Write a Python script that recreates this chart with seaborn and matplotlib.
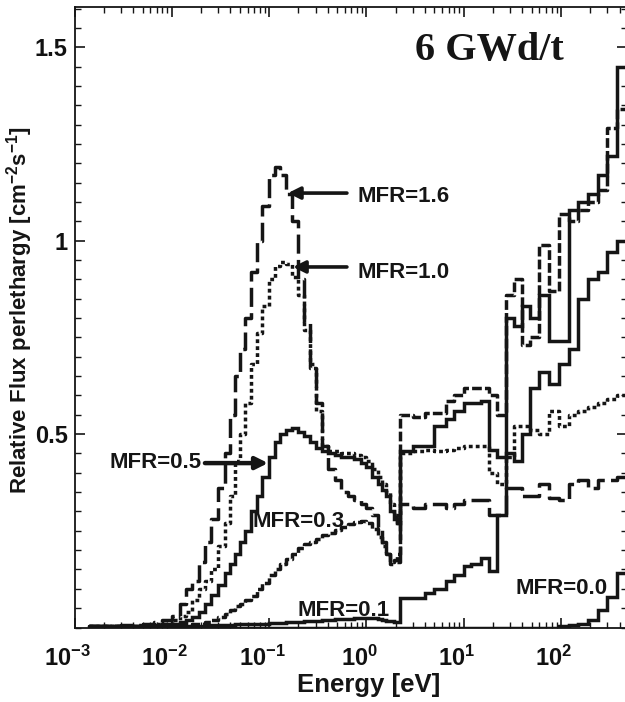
import numpy as np
import pandas as pd
import matplotlib
matplotlib.use("Agg")
import matplotlib.pyplot as plt
from matplotlib.ticker import LogLocator, MultipleLocator, NullFormatter
from matplotlib.transforms import ScaledTranslation
import seaborn as sns

# Lower edges of the energy groups [eV]
energy_ev = [
    0.0014, 0.002, 0.003, 0.004, 0.005, 0.0065, 0.008, 0.01, 0.012, 0.014,
    0.016, 0.019, 0.022, 0.025, 0.03, 0.035, 0.04, 0.045, 0.05, 0.057,
    0.065, 0.075, 0.085, 0.1, 0.115, 0.13, 0.15, 0.17, 0.2, 0.23,
    0.26, 0.3, 0.35, 0.4, 0.47, 0.55, 0.65, 0.75, 0.87, 1.0,
    1.15, 1.3, 1.45, 1.6, 1.75, 1.9, 2.05,
    2.2, 3.0, 4.0, 5.0, 6.5, 8.0, 10, 12, 15, 18,
    22, 27, 33, 40, 48, 60, 75, 95, 120, 150,
    190, 240, 300, 380,
]
upper_edge_ev = 476.0

# Relative flux per lethargy of each group
flux_mfr_1_6 = [
    0.004, 0.004, 0.006, 0.006, 0.01, 0.015, 0.02, 0.03, 0.06, 0.10,
    0.12, 0.17, 0.22, 0.28, 0.36, 0.45, 0.55, 0.65, 0.72, 0.80,
    0.92, 1.00, 1.09, 1.17, 1.19, 1.17, 1.12, 1.05, 0.90, 0.79,
    0.68, 0.58, 0.47, 0.41, 0.38, 0.35, 0.34, 0.33, 0.32, 0.31,
    0.29, 0.26, 0.22, 0.19, 0.165, 0.17, 0.17,
    0.32, 0.31, 0.32, 0.32, 0.31, 0.32, 0.33, 0.33, 0.33, 0.29,
    0.29, 0.36, 0.36, 0.34, 0.34, 0.37, 0.335, 0.33, 0.37, 0.38,
    0.36, 0.38, 0.38, 0.39,
]
flux_mfr_1_0 = [
    0.004, 0.004, 0.005, 0.005, 0.006, 0.008, 0.01, 0.02, 0.03, 0.04,
    0.07, 0.10, 0.12, 0.15, 0.21, 0.27, 0.34, 0.43, 0.50, 0.58,
    0.68, 0.76, 0.83, 0.90, 0.935, 0.945, 0.94, 0.905, 0.86, 0.77,
    0.67, 0.56, 0.47, 0.455, 0.455, 0.45, 0.45, 0.445, 0.44, 0.43,
    0.41, 0.39, 0.37, 0.35, 0.32, 0.29, 0.27,
    0.45, 0.455, 0.46, 0.455, 0.46, 0.465, 0.47, 0.47, 0.47, 0.40,
    0.37, 0.44, 0.52, 0.52, 0.51, 0.50, 0.56, 0.52, 0.55, 0.56,
    0.57, 0.58, 0.59, 0.60,
]
flux_mfr_0_5 = [
    0.003, 0.003, 0.004, 0.004, 0.005, 0.006, 0.008, 0.01, 0.013, 0.02,
    0.028, 0.04, 0.06, 0.085, 0.11, 0.14, 0.165, 0.19, 0.22, 0.25,
    0.30, 0.34, 0.39, 0.44, 0.48, 0.50, 0.51, 0.515, 0.505, 0.495,
    0.48, 0.465, 0.455, 0.45, 0.445, 0.44, 0.44, 0.435, 0.425, 0.415,
    0.39, 0.37, 0.355, 0.34, 0.30, 0.28, 0.27,
    0.455, 0.47, 0.47, 0.52, 0.54, 0.56, 0.58, 0.58, 0.585, 0.46,
    0.44, 0.45, 0.43, 0.50, 0.62, 0.66, 0.63, 0.68, 0.72, 0.85,
    0.90, 0.92, 0.97, 1.00,
]
flux_mfr_0_3 = [
    0.003, 0.003, 0.003, 0.003, 0.003, 0.004, 0.004, 0.005, 0.006, 0.007,
    0.008, 0.01, 0.015, 0.02, 0.027, 0.035, 0.045, 0.055, 0.062, 0.072,
    0.082, 0.10, 0.115, 0.135, 0.15, 0.165, 0.178, 0.19, 0.205, 0.215,
    0.222, 0.23, 0.238, 0.245, 0.252, 0.26, 0.268, 0.272, 0.275, 0.27,
    0.255, 0.235, 0.21, 0.19, 0.17, 0.175, 0.19,
    0.55, 0.545, 0.555, 0.555, 0.585, 0.60, 0.62, 0.62, 0.62, 0.60,
    0.55, 0.86, 0.90, 0.73, 0.75, 0.99, 0.87, 1.07, 1.05, 1.08,
    1.10, 1.13, 1.29, 1.34,
]
flux_mfr_0_1 = [
    0.003, 0.003, 0.003, 0.003, 0.003, 0.003, 0.004, 0.004, 0.004, 0.005,
    0.005, 0.005, 0.006, 0.006, 0.006, 0.007, 0.007, 0.008, 0.008, 0.009,
    0.009, 0.01, 0.01, 0.011, 0.012, 0.012, 0.013, 0.014, 0.015, 0.016,
    0.017, 0.018, 0.019, 0.02, 0.021, 0.022, 0.023, 0.024, 0.025, 0.025,
    0.024, 0.022, 0.02, 0.018, 0.016, 0.015, 0.015,
    0.077, 0.077, 0.09, 0.10, 0.12, 0.135, 0.16, 0.165, 0.18, 0.145,
    0.29, 0.80, 0.78, 0.83, 0.80, 0.86, 0.74, 0.74, 1.08, 1.10,
    1.12, 1.17, 1.22, 1.45,
]
flux_mfr_0_0 = [
    0.0, 0.0, 0.0, 0.0, 0.0, 0.0, 0.0, 0.0, 0.0, 0.0,
    0.0, 0.0, 0.0, 0.0, 0.0, 0.0, 0.0, 0.0, 0.0, 0.0,
    0.0, 0.0, 0.0, 0.0, 0.0, 0.0, 0.0, 0.0, 0.0, 0.0,
    0.0, 0.0, 0.0, 0.0, 0.0, 0.0, 0.0, 0.0, 0.0, 0.0,
    0.0, 0.0, 0.0, 0.0, 0.0, 0.0, 0.0,
    0.0, 0.0, 0.0, 0.0, 0.0, 0.0, 0.0, 0.0, 0.0, 0.0,
    0.0, 0.0, 0.0, 0.0, 0.0, 0.0, 0.0, 0.003, 0.006, 0.01,
    0.02, 0.045, 0.08, 0.14,
]

mfr_levels = ["1.6", "1.0", "0.5", "0.3", "0.1", "0.0"]
flux_series = [flux_mfr_1_6, flux_mfr_1_0, flux_mfr_0_5,
               flux_mfr_0_3, flux_mfr_0_1, flux_mfr_0_0]

x_tick_values = [1e-3, 1e-2, 1e-1, 1e0, 1e1, 1e2]
x_tick_labels = ["$10^{-3}$", "$10^{-2}$", "$10^{-1}$",
                 "$10^{0}$", "$10^{1}$", "$10^{2}$"]
y_tick_values = [0.5, 1.0, 1.5]
y_tick_labels = ["0.5", "1", "1.5"]

# Long-form table; each series gets the closing edge so the last group is drawn
rows = []
for level, values in zip(mfr_levels, flux_series):
    xs = energy_ev + [upper_edge_ev]
    ys = values + [values[-1]]
    for e, f in zip(xs, ys):
        rows.append((level, e, f))
df = pd.DataFrame(rows, columns=["MFR", "energy", "flux"])

sns.set_style("ticks")
plt.rcParams["font.family"] = ["Liberation Sans", "DejaVu Sans"]
plt.rcParams.update({
    "font.weight": "bold",
    "mathtext.fontset": "custom",
    "mathtext.rm": "Liberation Sans:bold",
    "mathtext.bf": "Liberation Sans:bold",
    "mathtext.it": "Liberation Sans:bold:italic",
    "mathtext.default": "rm",
    "axes.edgecolor": "#111111",
    "xtick.color": "#111111",
    "ytick.color": "#111111",
})

ink = "#151515"
fig = plt.figure(figsize=(6.25, 7.02), dpi=100)
fig.patch.set_facecolor("white")
ax = fig.add_axes([74.5 / 625, (702 - 627.5) / 702,
                   (627.0 - 74.5) / 625, (627.5 - 7) / 702])
ax.set_xscale("log")

line_dashes = {
    "1.6": (5.5, 1.8),
    "1.0": (1.1, 0.9),
    "0.5": "",
    "0.3": (2.8, 0.9),
    "0.1": "",
    "0.0": "",
}
sns.lineplot(
    data=df, x="energy", y="flux", hue="MFR", style="MFR",
    hue_order=mfr_levels, style_order=mfr_levels,
    palette={k: ink for k in mfr_levels}, dashes=line_dashes,
    estimator=None, sort=False, legend=False, ax=ax,
    drawstyle="steps-post", linewidth=2.5, solid_joinstyle="miter",
)

ax.set_xlim(1e-3, upper_edge_ev)
ax.set_ylim(0, 1.604)

ax.set_xticks(x_tick_values, x_tick_labels)
ax.xaxis.set_minor_locator(LogLocator(base=10, subs=(2, 3, 4, 5, 6, 7, 8, 9), numticks=50))
ax.xaxis.set_minor_formatter(NullFormatter())
ax.set_yticks(y_tick_values, y_tick_labels)
ax.yaxis.set_minor_locator(MultipleLocator(0.05))

ax.tick_params(which="both", direction="in", top=True, right=True, color=ink)
ax.tick_params(which="major", length=7, width=1.2)
ax.tick_params(which="minor", length=4, width=1.0)
ax.tick_params(axis="x", which="major", labelsize=17, pad=13)
ax.tick_params(axis="y", which="major", labelsize=17, pad=5)
for spine in ax.spines.values():
    spine.set_linewidth(1.3)
    spine.set_color(ink)

ax.set_xlabel("Energy [eV]", fontsize=18.5, fontweight="bold", color=ink)
ax.set_ylabel("Relative Flux perlethargy [cm$^{-2}$s$^{-1}$]",
              fontsize=16, fontweight="bold", color=ink)
ax.xaxis.set_label_coords(0.533, -0.093)
ax.xaxis.label.set_va("center")
ax.yaxis.set_label_coords(-0.099, 0.512)
ax.yaxis.label.set_va("center")

fig.text(415 / 625, (702 - 60) / 702, "6 GWd/t", family="Liberation Serif",
         fontweight="bold", fontsize=29, color=ink, va="baseline", ha="left")

label_kw = dict(fontsize=16, fontweight="bold", color=ink, va="center")
arrow_kw = dict(arrowstyle="-|>", color=ink, lw=2.6, mutation_scale=18,
                shrinkA=0, shrinkB=0)

ax.annotate("", xy=(0.156, 1.123), xytext=(0.63, 1.123), arrowprops=arrow_kw)
ax.text(0.80, 1.115, "MFR=1.6", ha="left", **label_kw)

ax.annotate("", xy=(0.176, 0.932), xytext=(0.63, 0.932), arrowprops=arrow_kw)
ax.text(0.80, 0.918, "MFR=1.0", ha="left", **label_kw)

ax.annotate("", xy=(0.0975, 0.425), xytext=(0.0219, 0.425),
            arrowprops=dict(arrow_kw, lw=3.2))
ax.text(0.0204, 0.427, "MFR=0.5", ha="right", **label_kw)

ax.text(0.0667, 0.273, "MFR=0.3", ha="left", **label_kw)
ax.text(0.198, 0.045, "MFR=0.1", ha="left", **label_kw)
ax.text(33.7, 0.102, "MFR=0.0", ha="left", **label_kw)

fig.canvas.draw()
shift = ScaledTranslation(-7 / 100, 0, fig.dpi_scale_trans)
for tick in ax.xaxis.get_major_ticks():
    tick.label1.set_transform(tick.label1.get_transform() + shift)

fig.savefig("out.png", dpi=100, facecolor="white")
